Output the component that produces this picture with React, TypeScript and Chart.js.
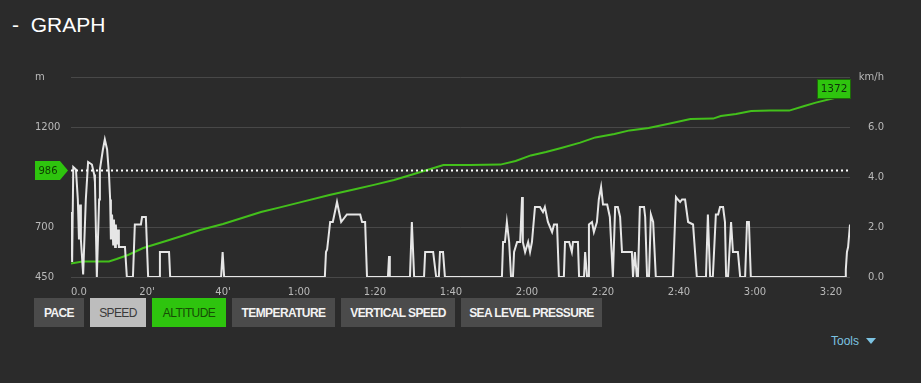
import React, { useEffect, useRef } from "react";
import { Chart, registerables } from "chart.js";

Chart.register(...registerables);

// ---------- data ----------
const altTime = [0, 3, 10, 12, 15, 19, 25, 30, 34, 40, 45, 50, 55, 60, 68, 75, 80, 85, 92, 98, 105, 113, 117, 121, 125, 129, 134, 138, 143, 147, 152, 157, 163, 169, 171, 175, 179, 184, 189, 193, 196, 202, 205];
const altValues = [518, 528, 528, 540, 560, 595, 630, 660, 685, 715, 745, 775, 798, 822, 860, 890, 912, 935, 975, 1010, 1010, 1012, 1030, 1058, 1075, 1095, 1122, 1148, 1165, 1183, 1195, 1215, 1240, 1242, 1255, 1265, 1280, 1282, 1282, 1305, 1322, 1350, 1372];

const speedTime = [
  0, 0.3, 0.6, 1.3, 1.8, 2.1, 2.4, 2.6, 3.2, 3.9, 4.5, 5.5, 6.1, 6.3, 6.8, 7.4, 7.6, 8.4, 8.9, 9.5, 10.0, 10.3, 10.5, 10.8, 11.1, 11.3, 11.6, 11.8, 12.1, 12.4, 12.6, 12.9, 14.2, 14.7, 16.3, 16.8, 18.4, 18.7, 19.7, 20.3, 23.2, 23.4, 25.8, 26.1, 39.5, 39.9, 40.3,
  66.8, 67.1, 67.4, 68.2, 68.9, 70.0, 71.1, 72.6, 76.1, 76.6, 77.4, 77.9,
  83.4, 83.7, 83.9, 89.2, 89.7, 90.3, 92.9, 93.2, 95.3, 96.1, 96.8, 97.1, 97.9, 98.4,
  113.4, 113.7, 114.2, 114.7, 115.3, 115.8, 116.3, 116.6, 117.4, 118.2, 118.7, 118.9, 119.5, 120.3, 120.8, 121.3, 122.1, 123.4, 124.2, 124.7, 125.5, 126.6, 127.1, 127.9, 128.4,
  129.7, 130.0, 131.1, 131.8, 132.1, 133.4, 133.7,
  135.0, 135.3, 135.8, 136.1, 136.3, 137.1, 137.6, 138.4, 138.9, 139.5, 140.0, 141.1, 141.8, 142.6,
  143.2, 143.9, 144.5, 145.0, 147.6, 147.9, 148.4, 148.9, 149.2, 149.7, 150.8, 151.1, 151.6, 152.1, 152.6, 153.2, 153.9,
  158.4, 159.2, 159.7, 160.3, 160.8, 161.6, 162.4, 163.7, 164.7,
  167.1, 167.6, 168.2, 168.9, 169.7, 170.3, 170.8, 171.6, 172.1, 172.4,
  172.9, 173.7, 174.2, 175.5, 176.1, 177.4, 177.9, 178.4, 178.9,
  203.7, 203.9, 204.2, 204.5, 205.0,
];
const speedValues = [
  2.6, 0.6, 4.4, 4.3, 3.1, 1.5, 2.9, 1.5, 0.1, 3.1, 4.6, 4.5, 4.1, 3.8, 0, 3.1, 4.3, 5.1, 5.5, 5.1, 4.1, 3.1, 1.5, 2.5, 1.3, 2.3, 1.2, 2.1, 1.3, 1.9, 1.2, 1.2, 1.2, 0, 0, 2.1, 2.1, 2.4, 2.4, 0, 0, 1.0, 1.0, 0, 0, 1.0, 0,
  0, 1.0, 1.1, 2.2, 2.2, 3.0, 2.2, 2.5, 2.5, 2.2, 2.2, 0,
  0, 0.84, 0, 0, 2.2, 0, 0, 1.0, 1.0, 0, 0, 1.0, 1.0, 0,
  0, 1.4, 1.4, 2.2, 1.4, 0, 0, 1.0, 1.4, 1.4, 3.2, 1.4, 1.0, 1.4, 1.0, 1.4, 2.8, 2.8, 2.6, 2.8, 2.2, 1.8, 2.1, 2.1, 0,
  0, 1.4, 1.4, 1.0, 1.4, 1.4, 0,
  0, 1.0, 0, 0, 2.1, 2.2, 1.8, 2.2, 3.1, 3.6, 2.9, 2.9, 2.4, 0,
  2.8, 2.8, 2.4, 1.0, 1.0, 0, 1.0, 0, 0, 2.8, 2.8, 2.4, 0, 0, 2.5, 2.2, 0,
  0, 3.2, 3.1, 3.0, 3.1, 3.1, 2.2, 2.1, 0,
  0, 2.5, 0, 0, 2.5, 2.5, 2.8, 2.8, 2.2, 0,
  0, 2.2, 1.0, 1.0, 0, 0, 2.2, 2.2, 0,
  0, 0.3, 1.0, 1.2, 2.1,
];

const altTicks = [450, 700, 950, 1200, 1450];
const speedTicks = [0, 2, 4, 6, 8];
const timeTicks = [0, 20, 40, 60, 80, 100, 120, 140, 160, 180, 200];
const averageAltitude = 986;
const lastAltitudeLabel = "1372";
const buttonLabels = ["PACE", "SPEED", "ALTITUDE", "TEMPERATURE", "VERTICAL SPEED", "SEA LEVEL PRESSURE"];

// ---------- layout / style ----------
const BG = "#2b2b2b";
const GREEN = "#2ec40e";
const TICK_FONT = { family: "'DejaVu Sans', sans-serif", size: 10 };
const BUTTON_WIDTHS = [50, 56, 74, 103, 114, 141];

function fmtTime(v: number): string {
  if (v === 0) return "     0.0";
  if (v < 60) return v + "'";
  const h = Math.floor(v / 60);
  const m = v % 60;
  return h + ":" + (m < 10 ? "0" + m : "" + m);
}

const markerPlugin = {
  id: "markers",
  afterDatasetsDraw(chart: any) {
    const ctx = chart.ctx;
    const area = chart.chartArea;
    const yA = chart.scales.yAlt;
    const xS = chart.scales.x;
    // dotted average line
    const yAvg = Math.round(yA.getPixelForValue(averageAltitude)) + 0.5;
    ctx.save();
    ctx.strokeStyle = "#ffffff";
    ctx.lineWidth = 2;
    ctx.setLineDash([2, 3]);
    ctx.beginPath();
    ctx.moveTo(area.left, yAvg);
    ctx.lineTo(area.right, yAvg);
    ctx.stroke();
    ctx.setLineDash([]);

    // average marker on left
    const l = 35;
    const top = yAvg - 9.5;
    const bot = yAvg + 9.5;
    ctx.beginPath();
    ctx.moveTo(l, top);
    ctx.lineTo(l + 25, top);
    ctx.lineTo(l + 33, yAvg);
    ctx.lineTo(l + 25, bot);
    ctx.lineTo(l, bot);
    ctx.closePath();
    ctx.fillStyle = GREEN;
    ctx.fill();
    ctx.fillStyle = "#0e3a02";
    ctx.font = "10px 'DejaVu Sans', sans-serif";
    ctx.textAlign = "center";
    ctx.textBaseline = "middle";
    ctx.fillText(String(averageAltitude), l + 13, yAvg + 0.5);

    // last altitude box
    const lx = xS.getPixelForValue(altTime[altTime.length - 1]);
    const ly = yA.getPixelForValue(altValues[altValues.length - 1]);
    const bw = 33;
    const bh = 19;
    const bx = Math.round(lx - bw) + 0.5;
    const by = Math.round(ly + 5 - bh) + 0.5;
    ctx.fillStyle = GREEN;
    ctx.fillRect(bx, by, bw, bh);
    ctx.strokeStyle = "#1d6a08";
    ctx.lineWidth = 1;
    ctx.strokeRect(bx, by, bw, bh);
    ctx.fillStyle = "#10300a";
    ctx.font = "10.5px 'DejaVu Sans', sans-serif";
    ctx.fillText(lastAltitudeLabel, bx + bw / 2, by + bh / 2 + 0.5);
    ctx.restore();
  },
};

export default function App() {
  const ref = useRef<HTMLCanvasElement>(null);

  useEffect(() => {
    document.body.style.margin = "0";
    document.body.style.background = BG;
    const canvas = ref.current!;
    const speedPts = speedTime.map((t, i) => ({ x: t, y: speedValues[i] }));
    const altPts = altTime.map((t, i) => ({ x: t, y: altValues[i] }));
    const chart = new Chart(canvas, {
      type: "line",
      data: {
        datasets: [
          {
            label: "Speed",
            data: speedPts,
            yAxisID: "ySpeed",
            borderColor: "#e6e6e6",
            borderWidth: 2,
            pointRadius: 0,
            tension: 0,
            order: 0,
          },
          {
            label: "Altitude",
            data: altPts,
            yAxisID: "yAlt",
            borderColor: "#43c01b",
            borderWidth: 2,
            pointRadius: 0,
            tension: 0,
            order: 1,
          },
        ],
      },
      options: {
        animation: false,
        responsive: false,
        maintainAspectRatio: false,
        layout: { padding: { left: 35, right: 37, top: 77, bottom: 0 } },
        plugins: { legend: { display: false }, tooltip: { enabled: false } },
        scales: {
          x: {
            type: "linear",
            min: 0,
            max: 205,
            grid: { display: false },
            border: { display: false },
            afterBuildTicks: (s: any) => {
              s.ticks = timeTicks.map((v) => ({ value: v }));
            },
            afterFit: (s: any) => {
              s.height = 23;
            },
            ticks: {
              autoSkip: false,
              maxRotation: 0,
              padding: 1,
              color: "#b9b9b9",
              font: TICK_FONT,
              callback: (v: any) => fmtTime(Number(v)),
            },
          },
          yAlt: {
            type: "linear",
            position: "left",
            min: 450,
            max: 1450,
            grid: { color: "#484848", lineWidth: 1, drawTicks: false },
            border: { display: false },
            afterBuildTicks: (s: any) => {
              s.ticks = altTicks.map((v) => ({ value: v }));
            },
            afterFit: (s: any) => {
              s.width = 36;
            },
            ticks: {
              crossAlign: "far",
              padding: 0,
              color: "#b9b9b9",
              font: TICK_FONT,
              callback: (v: any) => (v === 1450 ? "m" : v === 950 ? "" : String(v)),
            },
          },
          ySpeed: {
            type: "linear",
            position: "right",
            min: 0,
            max: 8,
            grid: { display: false, drawTicks: false },
            border: { display: false },
            afterBuildTicks: (s: any) => {
              s.ticks = speedTicks.map((v) => ({ value: v }));
            },
            afterFit: (s: any) => {
              s.width = 34;
            },
            ticks: {
              crossAlign: "far",
              padding: 0,
              color: "#b9b9b9",
              font: TICK_FONT,
              callback: (v: any) => (v === 8 ? "km/h" : Number(v).toFixed(1)),
            },
          },
        },
      } as any,
      plugins: [markerPlugin],
    });
    return () => chart.destroy();
  }, []);

  const btnStyle = (i: number): React.CSSProperties => {
    const base: React.CSSProperties = {
      position: "absolute",
      top: 298,
      height: 29,
      width: BUTTON_WIDTHS[i],
      left: 34 + BUTTON_WIDTHS.slice(0, i).reduce((a, b) => a + b + 6, 0),
      display: "flex",
      alignItems: "center",
      justifyContent: "center",
      fontFamily: "'Liberation Sans', Arial, sans-serif",
      fontSize: 12,
      letterSpacing: "-0.6px",
      whiteSpace: "nowrap",
      boxSizing: "border-box",
    };
    if (i === 1) return { ...base, background: "#bdbdbd", color: "#3a3a3a" };
    if (i === 2) return { ...base, background: GREEN, color: "#174d05" };
    return { ...base, background: "#4b4b4b", color: "#f2f2f2", fontWeight: "bold" };
  };

  return (
    <div style={{ position: "relative", width: 921, height: 383, background: BG, overflow: "hidden" }}>
      <div
        style={{
          position: "absolute",
          left: 12,
          top: 13,
          color: "#ffffff",
          fontFamily: "'Liberation Sans', Arial, sans-serif",
          fontSize: 21,
          whiteSpace: "pre",
        }}
      >
        {"-  GRAPH"}
      </div>
      <canvas
        ref={ref}
        width={921}
        height={300}
        style={{ position: "absolute", left: 0, top: 0, width: 921, height: 300, display: "block" }}
      />
      {buttonLabels.map((b, i) => (
        <div key={b} style={btnStyle(i)}>
          {b}
        </div>
      ))}
      <div
        style={{
          position: "absolute",
          left: 831,
          top: 334,
          color: "#7cc3e2",
          fontFamily: "'Liberation Sans', Arial, sans-serif",
          fontSize: 12,
          display: "flex",
          alignItems: "center",
        }}
      >
        <span>Tools</span>
        <span
          style={{
            display: "inline-block",
            width: 0,
            height: 0,
            marginLeft: 7,
            borderLeft: "5px solid transparent",
            borderRight: "5px solid transparent",
            borderTop: "6px solid #7cc3e2",
          }}
        />
      </div>
    </div>
  );
}
